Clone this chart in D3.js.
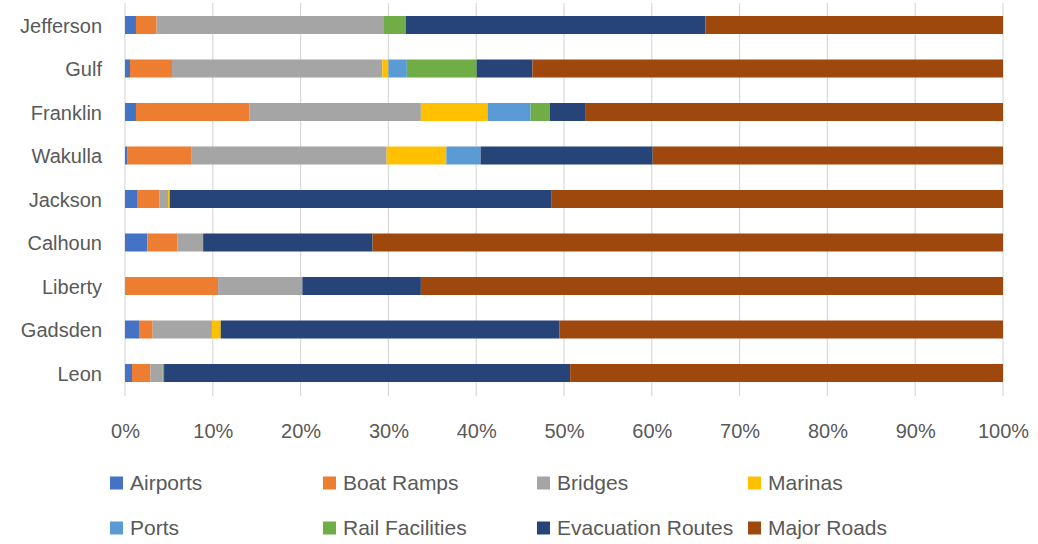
<!DOCTYPE html>
<html><head><meta charset="utf-8">
<script src="https://cdn.jsdelivr.net/npm/d3@7"></script>
<style>body{margin:0;background:#fff;} text{font-family:"Liberation Sans",Arial,sans-serif;fill:#595959;}</style>
</head><body><svg id="c" width="1038" height="544"></svg>
<script>
const counties = ["Jefferson","Gulf","Franklin","Wakulla","Jackson","Calhoun","Liberty","Gadsden","Leon"];
const seriesNames = ["Airports","Boat Ramps","Bridges","Marinas","Ports","Rail Facilities","Evacuation Routes","Major Roads"];
const colors = ["#4472C4","#ED7D31","#A5A5A5","#FFC000","#5B9BD5","#70AD47","#264478","#9E480E"];
// percentages per county, in order of seriesNames
const airports   = [1.25, 0.57, 1.25, 0.3, 1.45, 2.55, 0,    1.6,  0.8];
const boatRamps  = [2.35, 4.78, 12.95,7.3, 2.45, 3.4,  10.6, 1.55, 2.1];
const bridges    = [25.9, 23.95,19.5, 22.2,1.0,  2.95, 9.6,  6.75, 1.4];
const marinas    = [0,    0.7,  7.6,  6.8, 0.2,  0,    0,    1.0,  0];
const ports      = [0,    2.1,  4.9,  3.9, 0,    0,    0,    0,    0];
const rail       = [2.5,  7.95, 2.2,  0,   0,    0,    0,    0,    0.15];
const evacuation = [34.1, 6.35, 4.0,  19.6,43.5, 19.3, 13.5, 38.6, 46.25];
const majorRoads = [33.9, 53.6, 47.6, 39.9,51.4, 71.8, 66.3, 50.5, 49.3];
const ticks = [0,0.1,0.2,0.3,0.4,0.5,0.6,0.7,0.8,0.9,1.0];

const cols = [airports,boatRamps,bridges,marinas,ports,rail,evacuation,majorRoads];
const rows = counties.map((c,i)=>{const o={county:c}; let tot=0; cols.forEach(a=>tot+=a[i]);
  seriesNames.forEach((s,j)=>o[s]=cols[j][i]/tot); return o;});
const stack = d3.stack().keys(seriesNames)(rows);

const svg = d3.select("#c");
const x = d3.scaleLinear().domain([0,1]).range([125,1003]);
const y = d3.scaleBand().domain(counties).range([3.25,394.75]).paddingInner(0.586).paddingOuter(0.293);

// gridlines
svg.append("g").selectAll("line").data(ticks).join("line")
  .attr("x1",d=>x(d)).attr("x2",d=>x(d)).attr("y1",3).attr("y2",396)
  .attr("stroke","#d9d9d9").attr("stroke-width",1.2);

// bars
svg.append("g").selectAll("g").data(stack).join("g")
  .attr("fill",(d,i)=>colors[i])
  .selectAll("rect").data(d=>d).join("rect")
  .attr("x",d=>x(d[0])).attr("width",d=>Math.max(0,x(d[1])-x(d[0])))
  .attr("y",d=>y(d.data.county)).attr("height",y.bandwidth());

// y axis labels
const ya = svg.append("g").attr("transform","translate(125,1.5)")
  .call(d3.axisLeft(y).tickSize(0).tickPadding(23));
ya.select(".domain").remove();
ya.selectAll("text").style("font-size","20px").attr("fill","#595959")
  .style("font-family","'Liberation Sans',Arial,sans-serif");

// x axis labels
const xa = svg.append("g").attr("transform","translate(0,416)")
  .call(d3.axisBottom(x).tickValues(ticks).tickFormat(d3.format(".0%")).tickSize(0).tickPadding(8));
xa.select(".domain").remove();
xa.selectAll("text").style("font-size","20px").attr("fill","#595959")
  .style("font-family","'Liberation Sans',Arial,sans-serif");

// legend
const legX = [110,323,537,748];
const legY = [483,528];
const leg = svg.append("g").selectAll("g").data(seriesNames).join("g")
  .attr("transform",(d,i)=>`translate(${legX[i%4]},${legY[Math.floor(i/4)]})`);
leg.append("rect").attr("x",0).attr("y",-6.5).attr("width",13).attr("height",13).attr("fill",(d,i)=>colors[i]);
leg.append("text").attr("x",20).attr("y",0).attr("dy","0.35em").style("font-size","21px").text(d=>d);
</script></body></html>
